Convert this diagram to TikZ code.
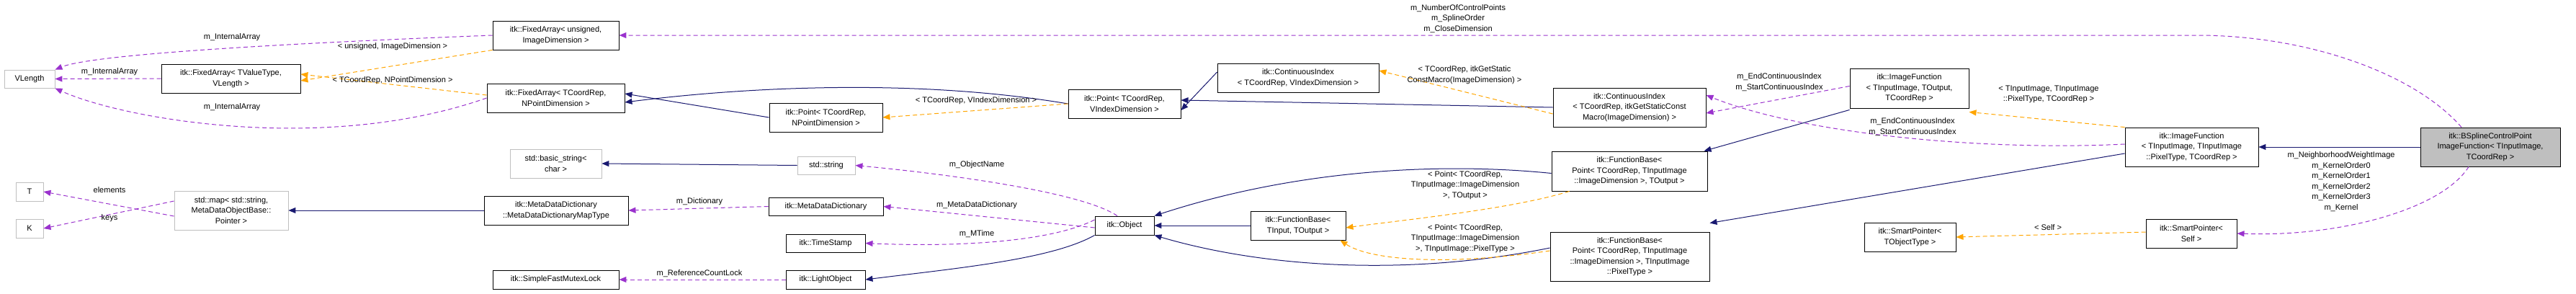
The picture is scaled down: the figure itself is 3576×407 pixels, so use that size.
\documentclass[tikz,border=0pt]{standalone}
\usepackage{fontspec}
\setmainfont{Liberation Sans}
\usetikzlibrary{arrows.meta}
\definecolor{inh}{HTML}{191970}
\definecolor{use}{HTML}{9A32CD}
\definecolor{tpl}{HTML}{FFA500}
\definecolor{gbox}{HTML}{BFBFBF}
\begin{document}
\begin{tikzpicture}[x=1pt,y=-1pt,
  every node/.style={font=\fontsize{11}{14.5}\selectfont, align=center, inner sep=0pt},
  box/.style={draw=black, line width=0.9pt, fill=white},
  gbx/.style={draw=gbox, line width=0.9pt, fill=white},
  lbl/.style={fill=none},
  inhe/.style={draw=inh, line width=1pt, -{Triangle[length=10pt,width=8pt]}},
  usee/.style={draw=use, line width=1pt, dashed, dash pattern=on 6pt off 4pt, -{Triangle[length=10pt,width=8pt]}},
  tple/.style={draw=tpl, line width=1pt, dashed, dash pattern=on 6pt off 4pt, -{Triangle[length=10pt,width=8pt]}}]
\useasboundingbox (0,0) rectangle (3576,407);
% nodes
\node[gbx,minimum width=70,minimum height=25] (VL) at (41,109.5) {VLength};
\node[box,minimum width=175,minimum height=40] (FAu) at (771.5,49) {itk::FixedArray< unsigned,\\ImageDimension >};
\node[box,minimum width=193,minimum height=40] (FAv) at (320.5,109) {itk::FixedArray< TValueType,\\VLength >};
\node[box,minimum width=191,minimum height=40] (FAc) at (771.5,136) {itk::FixedArray< TCoordRep,\\NPointDimension >};
\node[gbx,minimum width=127,minimum height=40] (bstr) at (771.5,227) {std::basic\_string<\\char >};
\node[gbx,minimum width=38,minimum height=26] (T) at (41,266) {T};
\node[gbx,minimum width=38,minimum height=26] (K) at (41,317) {K};
\node[gbx,minimum width=158,minimum height=54] (map) at (321,292) {std::map< std::string,\\MetaDataObjectBase::\\Pointer >};
\node[box,minimum width=200,minimum height=40] (mapT) at (772,292) {itk::MetaDataDictionary\\::MetaDataDictionaryMapType};
\node[box,minimum width=175,minimum height=26] (mutex) at (771.5,388) {itk::SimpleFastMutexLock};
\node[box,minimum width=157,minimum height=40] (PtN) at (1146.5,163) {itk::Point< TCoordRep,\\NPointDimension >};
\node[box,minimum width=156,minimum height=40] (PtV) at (1561,144) {itk::Point< TCoordRep,\\VIndexDimension >};
\node[box,minimum width=224,minimum height=40] (CIv) at (1802,108) {itk::ContinuousIndex\\< TCoordRep, VIndexDimension >};
\node[gbx,minimum width=80,minimum height=25] (str) at (1147,229.5) {std::string};
\node[box,minimum width=159,minimum height=25] (MDD) at (1146.5,286.5) {itk::MetaDataDictionary};
\node[box,minimum width=110,minimum height=25] (TS) at (1146,337.5) {itk::TimeStamp};
\node[box,minimum width=110,minimum height=26] (LO) at (1146,388) {itk::LightObject};
\node[box,minimum width=82,minimum height=26] (Obj) at (1561,313) {itk::Object};
\node[box,minimum width=132,minimum height=40] (FBio) at (1802,313) {itk::FunctionBase<\\TInput, TOutput >};
\node[box,minimum width=212,minimum height=54] (CIs) at (2262,149) {itk::ContinuousIndex\\< TCoordRep, itkGetStaticConst\\Macro(ImageDimension) >};
\node[box,minimum width=165,minimum height=55] (IFo) at (2650.5,122.5) {itk::ImageFunction\\< TInputImage, TOutput,\\TCoordRep >};
\node[box,minimum width=216,minimum height=55] (FBpo) at (2262,237.5) {itk::FunctionBase<\\Point< TCoordRep, TInputImage\\::ImageDimension >, TOutput >};
\node[box,minimum width=221,minimum height=68] (FBpp) at (2262.5,356) {itk::FunctionBase<\\Point< TCoordRep, TInputImage\\::ImageDimension >, TInputImage\\::PixelType >};
\node[box,minimum width=127,minimum height=40] (SPt) at (2651.5,329) {itk::SmartPointer<\\TObjectType >};
\node[box,minimum width=185,minimum height=54] (IFp) at (3042.5,204) {itk::ImageFunction\\< TInputImage, TInputImage\\::PixelType, TCoordRep >};
\node[box,fill=gbox,minimum width=194,minimum height=54] (BS) at (3457,204) {itk::BSplineControlPoint\\ImageFunction< TInputImage,\\TCoordRep >};
\node[box,minimum width=126,minimum height=40] (SPs) at (3042,324) {itk::SmartPointer<\\Self >};
% coordinates
\coordinate (c14) at (3050,49);
% edges
\draw[usee] (FAu.west) .. controls (400,60) and (130,75) .. (VL.north east);
\draw[usee] (FAv.west) -- (VL.east);
\draw[usee] (FAc.west) .. controls (450,215) and (170,165) .. (VL.south east);
\draw[tple] (FAu.south west) -- ([yshift=-3pt]FAv.east);
\draw[tple] ([yshift=4pt]FAc.west) -- ([yshift=6pt]FAv.east);
\draw[inhe] (PtV.west) .. controls (1250,105) and (1000,125) .. ([yshift=-6pt]FAc.east);
\draw[inhe] (PtN.west) -- ([yshift=6pt]FAc.east);
\draw[tple] (PtV.west) -- (PtN.east);
\draw[inhe] ([yshift=8pt]CIv.west) -- ([yshift=-9pt]PtV.east);
\draw[inhe] (CIs.west) -- ([yshift=5pt]PtV.east);
\draw[tple] ([yshift=-9pt]CIs.west) -- ([yshift=10pt]CIv.east);
\draw[usee] ([yshift=3pt]IFo.west) -- ([yshift=-8pt]CIs.east);
\draw[usee] ([yshift=4pt]IFp.west) .. controls (2750,210) and (2500,185) .. ([yshift=17pt]CIs.east);
\draw[usee] ([xshift=-40pt]BS.north) .. controls (3350,100) and (3200,49) .. (c14) -- (FAu.east);
\draw[inhe] (str.west) -- ([yshift=0pt]bstr.east);
\draw[usee] ([xshift=-10pt]Obj.north) .. controls (1500,265) and (1300,240) .. (str.east);
\draw[usee] ([yshift=-3pt]Obj.west) -- (MDD.east);
\draw[usee] ([yshift=8pt]Obj.west) .. controls (1450,340) and (1300,342) .. (TS.east);
\draw[inhe] (Obj.south west) .. controls (1460,360) and (1330,372) .. (LO.east);
\draw[usee] (LO.west) -- (mutex.east);
\draw[usee] (MDD.west) -- (mapT.east);
\draw[inhe] (mapT.west) -- (map.east);
\draw[usee] ([yshift=-8pt]map.west) -- (T.east);
\draw[usee] ([yshift=13pt]map.west) -- (K.east);
\draw[inhe] ([yshift=-3pt]FBpo.west) .. controls (2000,225) and (1800,235) .. (Obj.north east);
\draw[inhe] (FBio.west) -- (Obj.east);
\draw[inhe] ([yshift=12pt]FBpp.west) .. controls (1950,385) and (1750,370) .. (Obj.south east);
\draw[tple] ([xshift=25pt]FBpo.south west) .. controls (2100,290) and (1950,305) .. ([yshift=-3pt]FBio.east);
\draw[tple] ([yshift=8pt]FBpp.west) .. controls (2000,370) and (1900,360) .. ([xshift=-8pt]FBio.south east);
\draw[inhe] ([yshift=-2pt]IFo.south west) -- ([xshift=-5pt]FBpo.north east);
\draw[inhe] ([yshift=-9pt]IFp.west) -- ([yshift=12pt]FBpp.north east);
\draw[tple] (IFp.north west) -- ([yshift=-5pt]IFo.south east);
\draw[inhe] (BS.west) -- (IFp.east);
\draw[tple] ([yshift=2pt]SPs.west) -- (SPt.east);
\draw[usee] ([xshift=-30pt]BS.south) .. controls (3390,290) and (3250,329) .. (SPs.east);
% labels
\node[lbl] (l1) at (322,52) {m\_InternalArray};
\node[lbl] (l2) at (152,100) {m\_InternalArray};
\node[lbl] (l3) at (322,149) {m\_InternalArray};
\node[lbl] (l4) at (545,65) {< unsigned, ImageDimension >};
\node[lbl] (l5) at (545,112) {< TCoordRep, NPointDimension >};
\node[lbl] (l6) at (152,264) {elements};
\node[lbl] (l7) at (152,303) {keys};
\node[lbl] (l8) at (1355,140) {< TCoordRep, VIndexDimension >};
\node[lbl] (l9) at (1356,229) {m\_ObjectName};
\node[lbl] (l10) at (1356,285) {m\_MetaDataDictionary};
\node[lbl] (l11) at (1356,325) {m\_MTime};
\node[lbl] (l12) at (971,280) {m\_Dictionary};
\node[lbl] (l13) at (971,380) {m\_ReferenceCountLock};
\node[lbl] (l14) at (2024,26) {m\_NumberOfControlPoints\\m\_SplineOrder\\m\_CloseDimension};
\node[lbl] (l15) at (2033,104) {< TCoordRep, itkGetStatic\\ConstMacro(ImageDimension) >};
\node[lbl] (l16) at (2470,114) {m\_EndContinuousIndex\\m\_StartContinuousIndex};
\node[lbl] (l17) at (2655,176) {m\_EndContinuousIndex\\m\_StartContinuousIndex};
\node[lbl] (l18) at (2034,257) {< Point< TCoordRep,\\TInputImage::ImageDimension\\>, TOutput >};
\node[lbl] (l19) at (2034,331) {< Point< TCoordRep,\\TInputImage::ImageDimension\\>, TInputImage::PixelType >};
\node[lbl] (l20) at (2844,131) {< TInputImage, TInputImage\\::PixelType, TCoordRep >};
\node[lbl] (l21) at (3250,252) {m\_NeighborhoodWeightImage\\m\_KernelOrder0\\m\_KernelOrder1\\m\_KernelOrder2\\m\_KernelOrder3\\m\_Kernel};
\node[lbl] (l22) at (2843,316) {< Self >};
\end{tikzpicture}
\end{document}
